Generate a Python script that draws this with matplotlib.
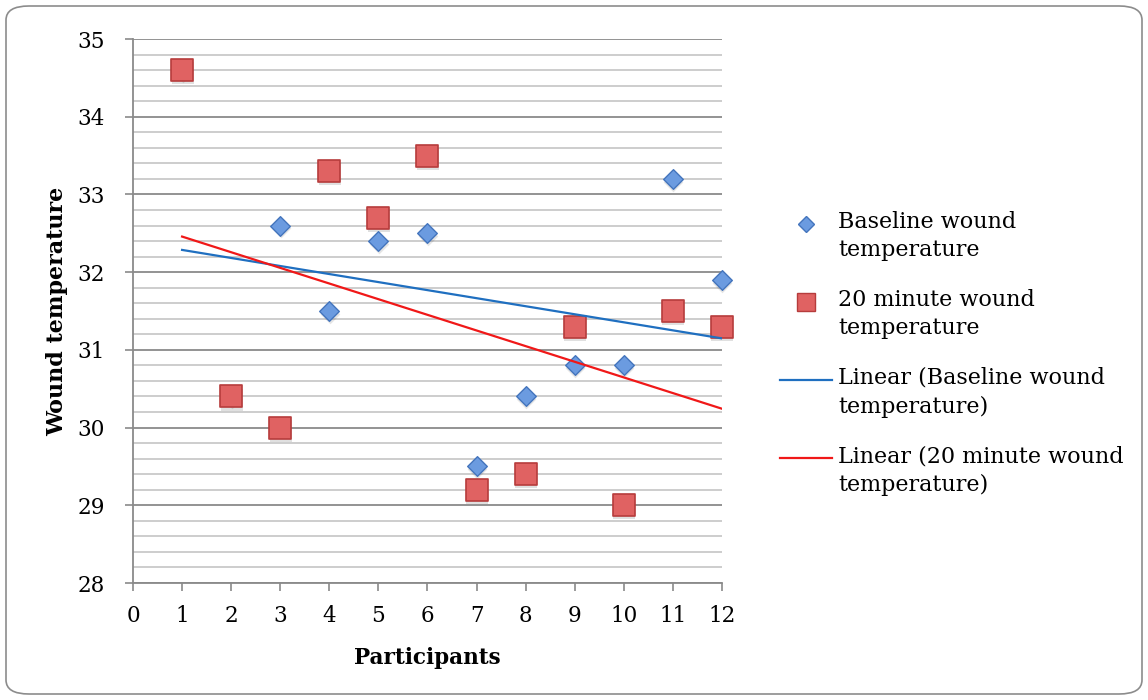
import numpy as np
import matplotlib
matplotlib.use("Agg")
import matplotlib.pyplot as plt
from matplotlib.patches import FancyBboxPatch
from matplotlib.lines import Line2D
from matplotlib.ticker import MultipleLocator

participants = [1, 2, 3, 4, 5, 6, 7, 8, 9, 10, 11, 12]
baseline = [34.6, 30.4, 32.6, 31.5, 32.4, 32.5, 29.5, 30.4, 30.8, 30.8, 33.2, 31.9]
after20 = [34.6, 30.4, 30.0, 33.3, 32.7, 33.5, 29.2, 29.4, 31.3, 29.0, 31.5, 31.3]
legend_labels = ['Baseline wound\ntemperature', '20 minute wound\ntemperature',
                 'Linear (Baseline wound\ntemperature)', 'Linear (20 minute wound\ntemperature)']

plt.rcParams['font.family'] = ['DejaVu Serif']

fig = plt.figure(figsize=(11.48, 7.0), dpi=100)
border = FancyBboxPatch((6/1148, 6/700), 1136/1148, 688/700,
                        boxstyle="round,pad=0,rounding_size=0.02",
                        transform=fig.transFigure, facecolor='white',
                        edgecolor='#8c8c8c', linewidth=1.2, zorder=-10)
fig.patches.append(border)

ax = fig.add_axes([133/1148, 1-583/700, (722-133)/1148, (583-39)/700])
ax.set_facecolor('none')

ax.set_xlim(0, 12)
ax.set_ylim(28, 35)
ax.xaxis.set_major_locator(MultipleLocator(1))
ax.yaxis.set_major_locator(MultipleLocator(1))
ax.yaxis.set_minor_locator(MultipleLocator(0.2))
ax.grid(axis='y', which='major', color='#8a8a8a', linewidth=1.3, zorder=0)
ax.grid(axis='y', which='minor', color='#c0c0c0', linewidth=1.1, zorder=0)
ax.tick_params(axis='y', which='minor', length=0)
ax.tick_params(axis='both', which='major', direction='out', length=6,
               color='#8a8a8a', width=1.2, labelsize=15.5)
ax.tick_params(axis='x', pad=10)
ax.tick_params(axis='y', pad=14)
for s in ['top', 'right']:
    ax.spines[s].set_visible(False)
for s in ['left', 'bottom']:
    ax.spines[s].set_color('#8a8a8a')
    ax.spines[s].set_linewidth(1.3)
ax.set_axisbelow(True)

x = np.array(participants, dtype=float)
sq_face, sq_edge = '#e06262', '#b63c3c'
di_face, di_edge = '#6b9be0', '#4475bd'
# soft shadows
ax.scatter(x + 0.01, np.array(baseline) - 0.035, marker='D', s=100, color='#000000',
           alpha=0.10, linewidths=0, zorder=2, clip_on=False)
ax.scatter(x + 0.01, np.array(after20) - 0.04, marker='s', s=250, color='#000000',
           alpha=0.12, linewidths=0, zorder=2, clip_on=False)

ax.scatter(x, baseline, marker='D', s=100, facecolor=di_face,
           edgecolor=di_edge, linewidths=1.0, zorder=3, clip_on=False)
ax.scatter(x, after20, marker='s', s=250, facecolor=sq_face,
           edgecolor=sq_edge, linewidths=1.2, zorder=4, clip_on=False)

pb = np.polyfit(x, baseline, 1)
pa = np.polyfit(x, after20, 1)
xl = np.array([x.min(), x.max()])
ax.plot(xl, np.polyval(pb, xl), color='#1f6fc0', linewidth=1.6, zorder=5)
ax.plot(xl, np.polyval(pa, xl), color='#f01818', linewidth=1.6, zorder=5)

ax.set_xlabel('Participants', fontsize=15.5, fontweight='bold', labelpad=14)
ax.set_ylabel('Wound temperature', fontsize=16, fontweight='bold', labelpad=7)

# manual legend (handles aligned with first text line, like the original)
W, H = 1148, 700
tx = 838 / W
first_y = [224, 302, 380, 458]
for i, (lab, yy) in enumerate(zip(legend_labels, first_y)):
    fy = 1 - yy / H
    fig.text(tx, fy + 13 / H, lab, fontsize=16, va='top', ha='left',
             linespacing=1.38)
    if i == 0:
        fig.add_artist(Line2D([806 / W], [fy], marker='D', markersize=8.5,
                              markerfacecolor=di_face, markeredgecolor=di_edge,
                              linestyle='none', transform=fig.transFigure))
    elif i == 1:
        fig.add_artist(Line2D([806 / W], [fy], marker='s', markersize=13,
                              markerfacecolor=sq_face, markeredgecolor=sq_edge,
                              linestyle='none', transform=fig.transFigure))
    else:
        col = '#1f6fc0' if i == 2 else '#f01818'
        fig.add_artist(Line2D([780 / W, 832 / W], [fy, fy], color=col,
                              linewidth=1.6, transform=fig.transFigure))

fig.savefig('out.png', dpi=100)
